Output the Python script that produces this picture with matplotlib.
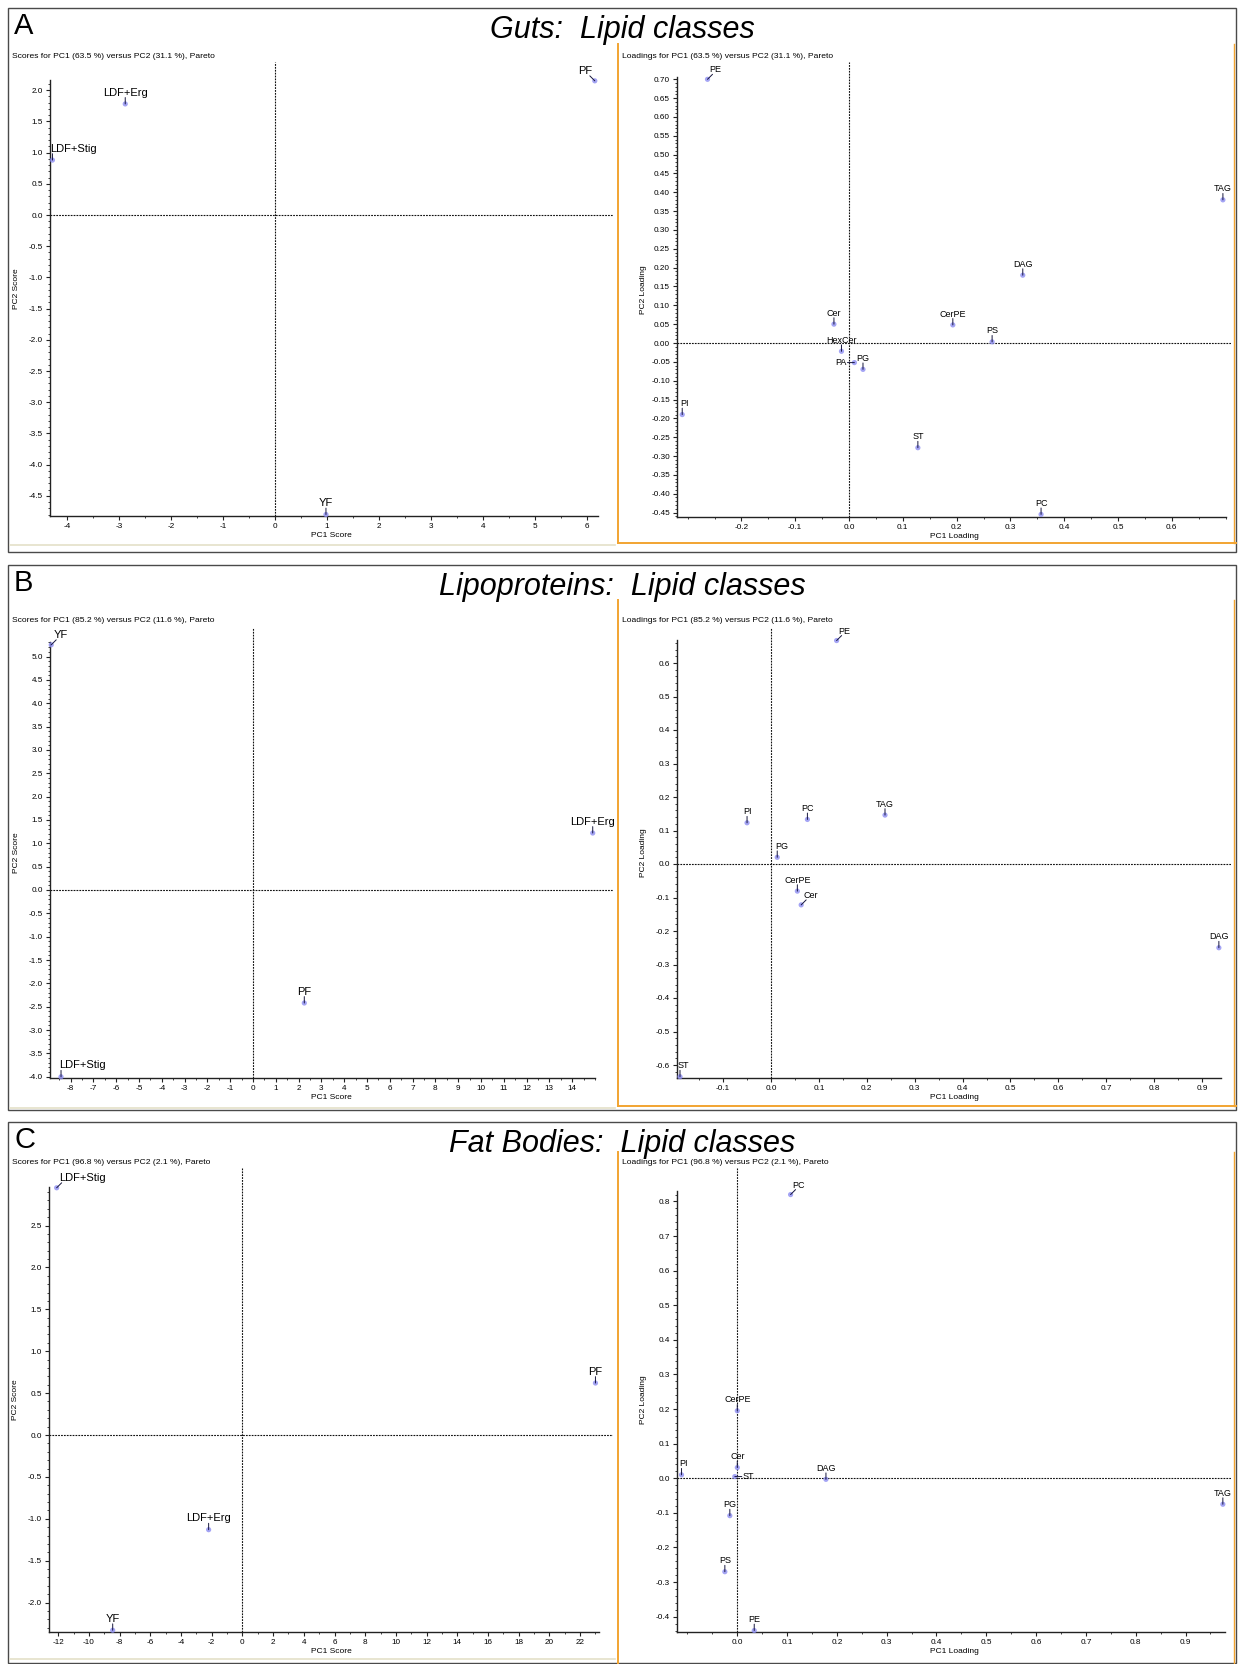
import matplotlib
matplotlib.use('Agg')
import matplotlib.pyplot as plt
from matplotlib.ticker import FixedLocator, FormatStrFormatter
from matplotlib.lines import Line2D
from matplotlib.patches import Rectangle
from matplotlib import font_manager

W, H, DPI = 1244, 1664, 100
plt.rcParams['axes.unicode_minus'] = False
_names = {f.name for f in font_manager.fontManager.ttflist}
BASE = 'Liberation Sans' if 'Liberation Sans' in _names else 'DejaVu Sans'
plt.rcParams['font.family'] = [BASE, 'DejaVu Sans']

# ---------------- data ----------------
panel_letters = ['A', 'B', 'C']
panel_titles = ['Guts:  Lipid classes', 'Lipoproteins:  Lipid classes', 'Fat Bodies:  Lipid classes']
score_titles = ['Scores for PC1 (63.5 %) versus PC2 (31.1 %), Pareto',
                'Scores for PC1 (85.2 %) versus PC2 (11.6 %), Pareto',
                'Scores for PC1 (96.8 %) versus PC2 (2.1 %), Pareto']
loading_titles = ['Loadings for PC1 (63.5 %) versus PC2 (31.1 %), Pareto',
                  'Loadings for PC1 (85.2 %) versus PC2 (11.6 %), Pareto',
                  'Loadings for PC1 (96.8 %) versus PC2 (2.1 %), Pareto']

# Guts
guts_score_labels = ['LDF+Erg', 'LDF+Stig', 'PF', 'YF']
guts_score_pc1 = [-2.88, -4.28, 6.15, 0.98]
guts_score_pc2 = [1.78, 0.88, 2.15, -4.80]
guts_load_labels = ['PE', 'TAG', 'DAG', 'Cer', 'CerPE', 'PS', 'HexCer', 'PA', 'PG', 'PI', 'ST', 'PC']
guts_load_pc1 = [-0.263, 0.695, 0.323, -0.028, 0.193, 0.266, -0.014, 0.010, 0.026, -0.310, 0.128, 0.357]
guts_load_pc2 = [0.700, 0.380, 0.180, 0.050, 0.048, 0.003, -0.022, -0.052, -0.070, -0.190, -0.278, -0.455]

# Lipoproteins
lipo_score_labels = ['YF', 'LDF+Erg', 'PF', 'LDF+Stig']
lipo_score_pc1 = [-8.85, 14.90, 2.25, -8.42]
lipo_score_pc2 = [5.25, 1.22, -2.42, -4.00]
lipo_load_labels = ['PE', 'PI', 'PC', 'TAG', 'PG', 'CerPE', 'Cer', 'DAG', 'ST']
lipo_load_pc1 = [0.137, -0.050, 0.076, 0.238, 0.013, 0.055, 0.063, 0.935, -0.190]
lipo_load_pc2 = [0.667, 0.123, 0.133, 0.146, 0.020, -0.081, -0.122, -0.250, -0.635]

# Fat bodies
fat_score_labels = ['LDF+Stig', 'PF', 'LDF+Erg', 'YF']
fat_score_pc1 = [-12.1, 23.0, -2.2, -8.45]
fat_score_pc2 = [2.95, 0.62, -1.13, -2.33]
fat_load_labels = ['PC', 'CerPE', 'PI', 'Cer', 'ST', 'DAG', 'TAG', 'PG', 'PS', 'PE']
fat_load_pc1 = [0.107, 0.000, -0.112, 0.000, -0.005, 0.178, 0.975, -0.015, -0.025, 0.034]
fat_load_pc2 = [0.820, 0.195, 0.010, 0.031, 0.005, -0.003, -0.075, -0.108, -0.270, -0.440]

# tick values
guts_score_xticks = list(range(-4, 7))
guts_score_yticks = [-4.5, -4.0, -3.5, -3.0, -2.5, -2.0, -1.5, -1.0, -0.5, 0.0, 0.5, 1.0, 1.5, 2.0]
guts_load_xticks = [-0.2, -0.1, 0.0, 0.1, 0.2, 0.3, 0.4, 0.5, 0.6]
guts_load_yticks = [-0.45, -0.40, -0.35, -0.30, -0.25, -0.20, -0.15, -0.10, -0.05, 0.00, 0.05, 0.10,
                    0.15, 0.20, 0.25, 0.30, 0.35, 0.40, 0.45, 0.50, 0.55, 0.60, 0.65, 0.70]
lipo_score_xticks = list(range(-8, 15))
lipo_score_yticks = [-4.0, -3.5, -3.0, -2.5, -2.0, -1.5, -1.0, -0.5, 0.0, 0.5, 1.0, 1.5, 2.0, 2.5,
                     3.0, 3.5, 4.0, 4.5, 5.0]
lipo_load_xticks = [-0.1, 0.0, 0.1, 0.2, 0.3, 0.4, 0.5, 0.6, 0.7, 0.8, 0.9]
lipo_load_yticks = [-0.6, -0.5, -0.4, -0.3, -0.2, -0.1, 0.0, 0.1, 0.2, 0.3, 0.4, 0.5, 0.6]
fat_score_xticks = list(range(-12, 23, 2))
fat_score_yticks = [-2.0, -1.5, -1.0, -0.5, 0.0, 0.5, 1.0, 1.5, 2.0, 2.5]
fat_load_xticks = [0.0, 0.1, 0.2, 0.3, 0.4, 0.5, 0.6, 0.7, 0.8, 0.9]
fat_load_yticks = [-0.4, -0.3, -0.2, -0.1, 0.0, 0.1, 0.2, 0.3, 0.4, 0.5, 0.6, 0.7, 0.8]

# label placement styles (not data)
guts_score_dirs = ['up', 'upl', 'ul', 'up']
guts_load_dirs = ['ur', 'up', 'up', 'up', 'up', 'up', 'up', 'left', 'up', 'upl', 'up', 'up']
lipo_score_dirs = ['ur', 'up', 'up', 'upl']
lipo_load_dirs = ['ur', 'up', 'up', 'up', 'upl', 'up', 'ur', 'up', 'upl']
fat_score_dirs = ['ur', 'up', 'up', 'up']
fat_load_dirs = ['ur', 'up', 'upl', 'up', 'right', 'up', 'up', 'up', 'up', 'up']

fig = plt.figure(figsize=(W / DPI, H / DPI), dpi=DPI)

EDGE = '#4a4a4a'
ORANGE = '#f2a431'
PALE = '#e4e0c8'
MARK = '#8d8df2'
LEAD = '#16163c'


def fx(px):
    return px / W


def fy(py):
    return 1 - py / H


def hline(y, x0, x1, color, lw=1.0):
    fig.add_artist(Line2D([fx(x0), fx(x1)], [fy(y), fy(y)], color=color, lw=lw))


def vline(x, y0, y1, color, lw=1.0):
    fig.add_artist(Line2D([fx(x), fx(x)], [fy(y0), fy(y1)], color=color, lw=lw))


def make_axes(l, t, r, b, x0, xppu, y0, yppu):
    ax = fig.add_axes([fx(l), fy(b), (r - l) / W, (b - t) / H])
    ax.set_xlim((l - x0) / xppu, (r - x0) / xppu)
    ax.set_ylim((y0 - b) / yppu, (y0 - t) / yppu)
    ax.patch.set_alpha(0)
    return ax


def style_axes(ax, xb, yb, xticks, yticks, xfmt, yfmt, xminor, yminor, xlabel, ylabel, l, t, r, b):
    xl, yl = ax.get_xlim(), ax.get_ylim()
    ax.spines['top'].set_visible(False)
    ax.spines['right'].set_visible(False)
    ax.spines['bottom'].set_bounds(xl[0], xb)
    ax.spines['left'].set_bounds(yl[0], yb)
    for s in ('bottom', 'left'):
        ax.spines[s].set_linewidth(1.0)
        ax.spines[s].set_color('#222222')
    ax.xaxis.set_major_locator(FixedLocator(xticks))
    ax.yaxis.set_major_locator(FixedLocator(yticks))
    ax.xaxis.set_minor_locator(FixedLocator(xminor))
    ax.yaxis.set_minor_locator(FixedLocator(yminor))
    ax.xaxis.set_major_formatter(FormatStrFormatter(xfmt))
    ax.yaxis.set_major_formatter(FormatStrFormatter(yfmt))
    ax.tick_params(which='major', length=3, width=0.8, labelsize=5.9, pad=2, color='#222222')
    ax.tick_params(which='minor', length=1.6, width=0.6, color='#222222')
    ax.axvline(0, color='#111111', lw=0.8, ls=(0, (1.6, 1.0)), zorder=1)
    ax.axhline(0, color='#111111', lw=0.8, ls=(0, (1.6, 1.0)), zorder=1)
    ax.set_xlabel(xlabel, fontsize=6.0)
    ax.set_ylabel(ylabel, fontsize=6.0)
    ax.xaxis.set_label_coords(0.5, -16.0 / (b - t))
    ax.yaxis.set_label_coords(-30.0 / (r - l), 0.5)


def minor_vals(lo, hi, step):
    n = int(round((hi - lo) / step))
    return [lo + i * step for i in range(n + 1)]


def label_points(ax, xs, ys, labels, dirs, fs):
    ax.scatter(xs, ys, s=14, color=MARK, alpha=0.8, edgecolors='none', zorder=5, clip_on=False)
    for x, y, lab, d in zip(xs, ys, labels, dirs):
        if d == 'up':
            ln, tx, ha, va = (0, 4.6), (0, 4.6), 'center', 'bottom'
        elif d == 'upl':
            ln, tx, ha, va = (0, 4.6), (-1.5, 4.6), 'left', 'bottom'
        elif d == 'ur':
            ln, tx, ha, va = (3.6, 3.6), (1.5, 3.6), 'left', 'bottom'
        elif d == 'ul':
            ln, tx, ha, va = (-3.6, 3.6), (-1.5, 3.6), 'right', 'bottom'
        elif d == 'left':
            ln, tx, ha, va = (-5.0, 0), (-5.4, 0), 'right', 'center'
        else:
            ln, tx, ha, va = (5.0, 0), (5.4, 0), 'left', 'center'
        ax.annotate('', xy=(x, y), xytext=ln, textcoords='offset points',
                    arrowprops=dict(arrowstyle='-', color=LEAD, lw=0.7, shrinkA=0, shrinkB=0),
                    annotation_clip=False, zorder=6)
        ax.annotate(lab, xy=(x, y), xytext=tx, textcoords='offset points', ha=ha, va=va,
                    fontsize=fs, annotation_clip=False, zorder=7)


# ---------------- panel frames and headings ----------------
panels = [
    dict(top=8, bottom=552, obot=543, otop=44, sub=57),
    dict(top=565, bottom=1110, obot=1105.5, otop=600, sub=620),
    dict(top=1122, bottom=1663, obot=None, otop=1152, sub=1162),
]
for i, p in enumerate(panels):
    fig.add_artist(Rectangle((fx(8), fy(p['bottom'])), (1236 - 8) / W, (p['bottom'] - p['top']) / H,
                             fill=False, edgecolor=EDGE, lw=1.0))
    fig.text(fx(14), fy(p['top'] + 26), panel_letters[i], fontsize=21, ha='left', va='baseline')
    fig.text(fx(622), fy(p['top'] + 22), panel_titles[i], fontsize=22, style='italic',
             ha='center', va='center')
    vline(618, p['otop'], p['obot'] if p['obot'] else 1664, ORANGE, lw=1.4)
    vline(1234, p['otop'], p['obot'] if p['obot'] else 1664, ORANGE, lw=1.0)
    if p['obot']:
        hline(p['obot'], 618, 1236, ORANGE, lw=1.4)
        hline(p['obot'] + 2, 10, 615, PALE, lw=1.2)
    else:
        hline(1659, 10, 615, PALE, lw=1.2)
    fig.text(fx(12), fy(p['sub']), score_titles[i], fontsize=6.1, ha='left', va='center')
    fig.text(fx(622), fy(p['sub']), loading_titles[i], fontsize=6.1, ha='left', va='center')

# ---------------- A: Guts ----------------
l, t, r, b = 50, 62, 613, 516
ax = make_axes(l, t, r, b, 275, 52.0, 215, 62.4)
style_axes(ax, 6.21, 2.17, guts_score_xticks, guts_score_yticks, '%d', '%.1f',
           minor_vals(-4.0, 6.0, 0.5), minor_vals(-4.8, 2.1, 0.1), 'PC1 Score', 'PC2 Score', l, t, r, b)
label_points(ax, guts_score_pc1, guts_score_pc2, guts_score_labels, guts_score_dirs, 8.0)

l, t, r, b = 677, 62, 1231, 517
ax = make_axes(l, t, r, b, 849, 538.0, 343, 376.7)
style_axes(ax, 0.70, 0.705, guts_load_xticks, guts_load_yticks, '%.1f', '%.2f',
           minor_vals(-0.30, 0.70, 0.05), minor_vals(-0.46, 0.70, 0.01), 'PC1 Loading', 'PC2 Loading', l, t, r, b)
label_points(ax, guts_load_pc1, guts_load_pc2, guts_load_labels, guts_load_dirs, 6.5)

# ---------------- B: Lipoproteins ----------------
l, t, r, b = 50, 628, 613, 1078
ax = make_axes(l, t, r, b, 253, 22.8, 890, 46.7)
style_axes(ax, 15.0, 5.3, lipo_score_xticks, lipo_score_yticks, '%d', '%.1f',
           minor_vals(-8.5, 15.0, 0.5), minor_vals(-4.0, 5.3, 0.1), 'PC1 Score', 'PC2 Score', l, t, r, b)
label_points(ax, lipo_score_pc1, lipo_score_pc2, lipo_score_labels, lipo_score_dirs, 8.0)

l, t, r, b = 677, 628, 1231, 1078
ax = make_axes(l, t, r, b, 771, 479.0, 864, 335.0)
style_axes(ax, 0.94, 0.67, lipo_load_xticks, lipo_load_yticks, '%.1f', '%.1f',
           minor_vals(-0.15, 0.90, 0.05), minor_vals(-0.62, 0.66, 0.02), 'PC1 Loading', 'PC2 Loading', l, t, r, b)
label_points(ax, lipo_load_pc1, lipo_load_pc2, lipo_load_labels, lipo_load_dirs, 6.5)

# ---------------- C: Fat bodies ----------------
l, t, r, b = 49, 1168, 613, 1632
ax = make_axes(l, t, r, b, 242.4, 15.35, 1435.0, 83.8)
style_axes(ax, 23.2, 2.96, fat_score_xticks, fat_score_yticks, '%d', '%.1f',
           minor_vals(-12.0, 23.0, 1.0), minor_vals(-2.3, 2.9, 0.1), 'PC1 Score', 'PC2 Score', l, t, r, b)
label_points(ax, fat_score_pc1, fat_score_pc2, fat_score_labels, fat_score_dirs, 8.0)

l, t, r, b = 677, 1168, 1231, 1632
ax = make_axes(l, t, r, b, 737.3, 498.0, 1478.3, 346.0)
style_axes(ax, 0.98, 0.83, fat_load_xticks, fat_load_yticks, '%.1f', '%.1f',
           minor_vals(-0.1, 0.95, 0.05), minor_vals(-0.44, 0.82, 0.02), 'PC1 Loading', 'PC2 Loading', l, t, r, b)
label_points(ax, fat_load_pc1, fat_load_pc2, fat_load_labels, fat_load_dirs, 6.5)

fig.savefig('out.png', dpi=DPI)
